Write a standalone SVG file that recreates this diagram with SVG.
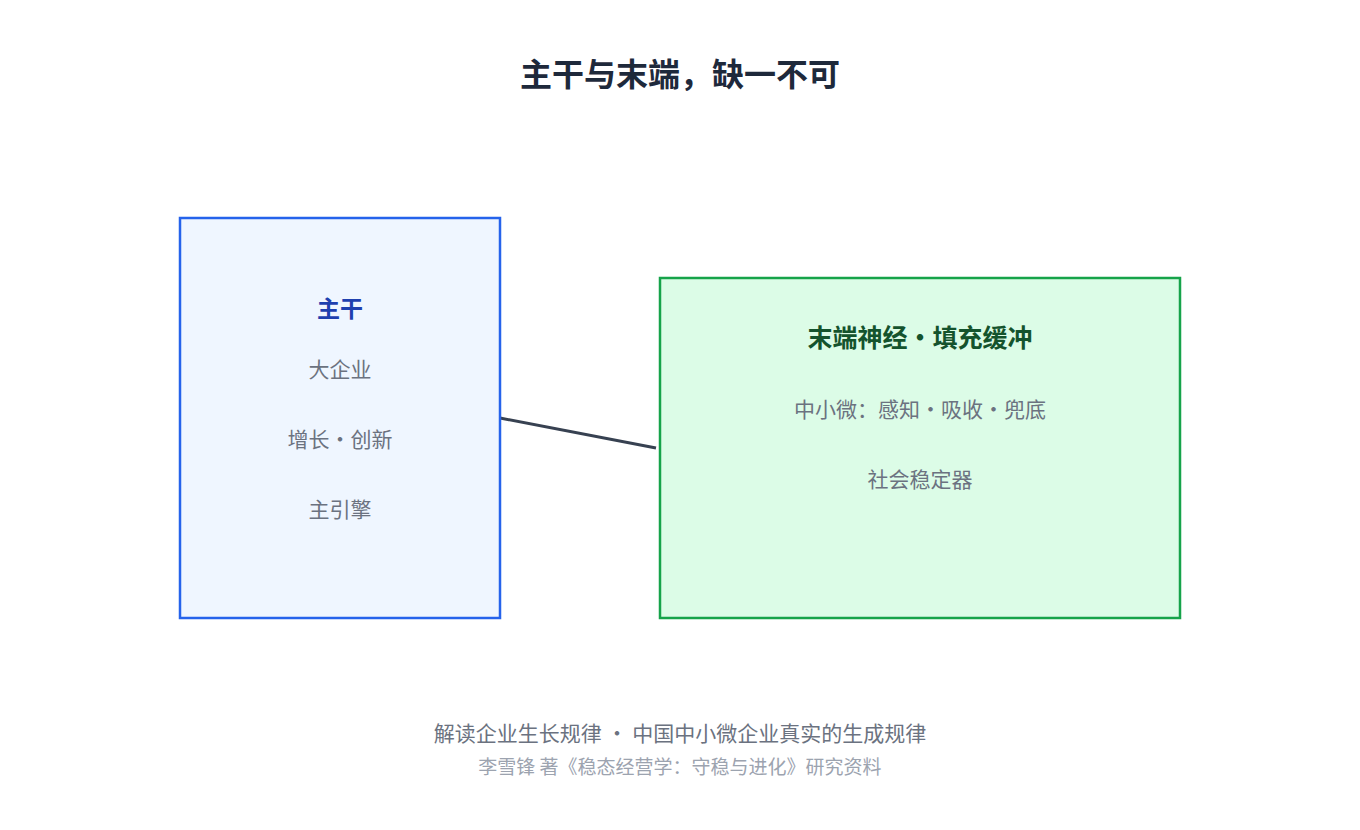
<svg xmlns="http://www.w3.org/2000/svg" width="1360" height="830" viewBox="0 0 1360 830">
<style>
text{font-family:"Noto Sans CJK SC","Noto Sans",sans-serif;text-anchor:middle}
.sub{font-size:21px;fill:#6b7280}
</style>
<rect width="1360" height="830" fill="#fff"/>
<text x="680" y="86" font-size="32" font-weight="bold" fill="#1e293b">主干与末端，缺一不可</text>
<g id="connectors"><line x1="500" y1="418" x2="656" y2="448" stroke="#374151" stroke-width="3"/></g>
<g id="trunk">
<rect x="180" y="218" width="320" height="400" fill="#eff6ff" stroke="#2563eb" stroke-width="2.5"/>
<text x="340" y="317" font-size="23" font-weight="bold" fill="#1e40af">主干</text>
<text x="340" y="377" class="sub">大企业</text>
<text x="340" y="447" class="sub">增长・创新</text>
<text x="340" y="517" class="sub">主引擎</text>
</g>
<g id="terminal">
<rect x="660" y="278" width="520" height="340" fill="#dcfce7" stroke="#16a34a" stroke-width="2.5"/>
<text x="920" y="347" font-size="25" font-weight="bold" fill="#14532d">末端神经・填充缓冲</text>
<text x="920" y="417" class="sub">中小微：感知・吸收・兜底</text>
<text x="920" y="487" class="sub">社会稳定器</text>
</g>
<text x="680" y="741" font-size="21" fill="#6b7280">解读企业生长规律 ・ 中国中小微企业真实的生成规律</text>
<text x="680" y="774" font-size="19" fill="#9ca3af">李雪锋 著《稳态经营学：守稳与进化》研究资料</text>
</svg>
